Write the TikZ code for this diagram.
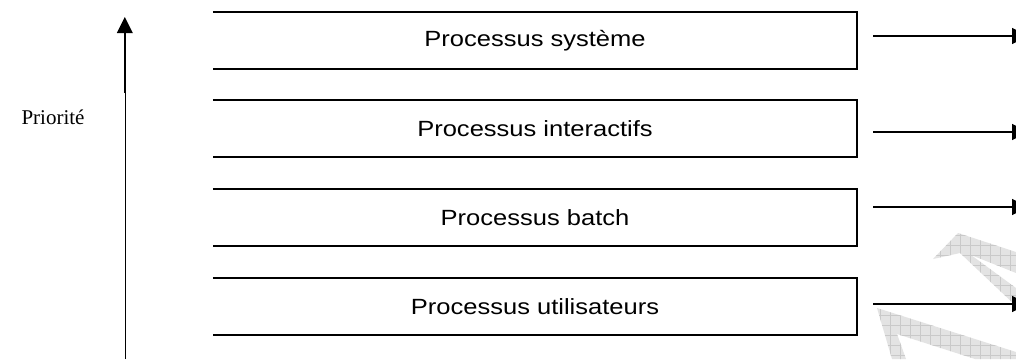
\documentclass[tikz,border=0pt]{standalone}
\usepackage{graphicx}
\usepackage{fontspec}
\setmainfont{Liberation Serif}
\setsansfont{Liberation Sans}
\usetikzlibrary{arrows.meta}
\newcommand{\widetext}[1]{\scalebox{1.16}[1]{#1}}
\begin{document}
\begin{tikzpicture}[x=1pt,y=-1pt,
  level/.style={minimum width=644pt,minimum height=57pt,inner sep=0pt,
    font=\sffamily\fontsize{22}{26}\selectfont},
  edge/.style={line width=2.2pt},
  outarrow/.style={line width=1.4pt,-{Triangle[length=16pt,width=16pt]}},
  wmshade/.style={fill=gray!22,draw=none},
  wmline/.style={gray!42,line width=0.6pt}]
\clip (0,0) rectangle (1016,359);
\fill[white] (0,0) rectangle (1016,359);

% background mark, lower right
\def\wmA{(933,259) -- (958,233) -- (1016,252) -- (1016,273) -- (971,255)
  -- (1016,288) -- (1016,306) -- (960,253) -- cycle}
\def\wmB{(877,308) -- (1016,352) -- (1016,359) -- (975,359) -- (897,334)
  -- (906,359) -- (892,359) -- cycle}
\fill[wmshade] \wmA;
\fill[wmshade] \wmB;
\begin{scope}
  \clip \wmA \wmB;
  \foreach \x in {870,880,...,1020} \draw[wmline] (\x,225) -- (\x,360);
  \foreach \y in {225,235,...,365} \draw[wmline] (870,\y) -- (1020,\y);
\end{scope}

% priority levels
\node[level] (sys)  at (535,40.5)  {\widetext{Processus système}};
\node[level] (inter) at (535,128.5) {\widetext{Processus interactifs}};
\node[level] (batch) at (535,217.5) {\widetext{Processus batch}};
\node[level] (user) at (535,306.5) {\widetext{Processus utilisateurs}};

\foreach \b in {sys,inter,batch,user}
  \draw[edge] (\b.north west) -- (\b.north east) -- (\b.south east) -- (\b.south west);

% outgoing arrows
\coordinate (o1) at (873,36);  \coordinate (e1) at (1028,36);
\coordinate (o2) at (873,132); \coordinate (e2) at (1028,132);
\coordinate (o3) at (873,207); \coordinate (e3) at (1028,207);
\coordinate (o4) at (873,304); \coordinate (e4) at (1028,304);
\foreach \i in {1,2,3,4}
  \draw[outarrow] (o\i) -- (e\i);

% priority axis
\coordinate (a0) at (125.5,359);
\coordinate (a1) at (125.5,93);
\coordinate (a2) at (124.8,93);
\coordinate (a3) at (124.8,17);
\draw[line width=1.3pt] (a0) -- (a1);
\draw[line width=2pt,-{Triangle[length=16pt,width=15.5pt]}] (a2) -- (a3);
\node[font=\fontsize{21}{24}\selectfont,anchor=base] (prio) at (53,124) {Priorité};
\end{tikzpicture}
\end{document}
